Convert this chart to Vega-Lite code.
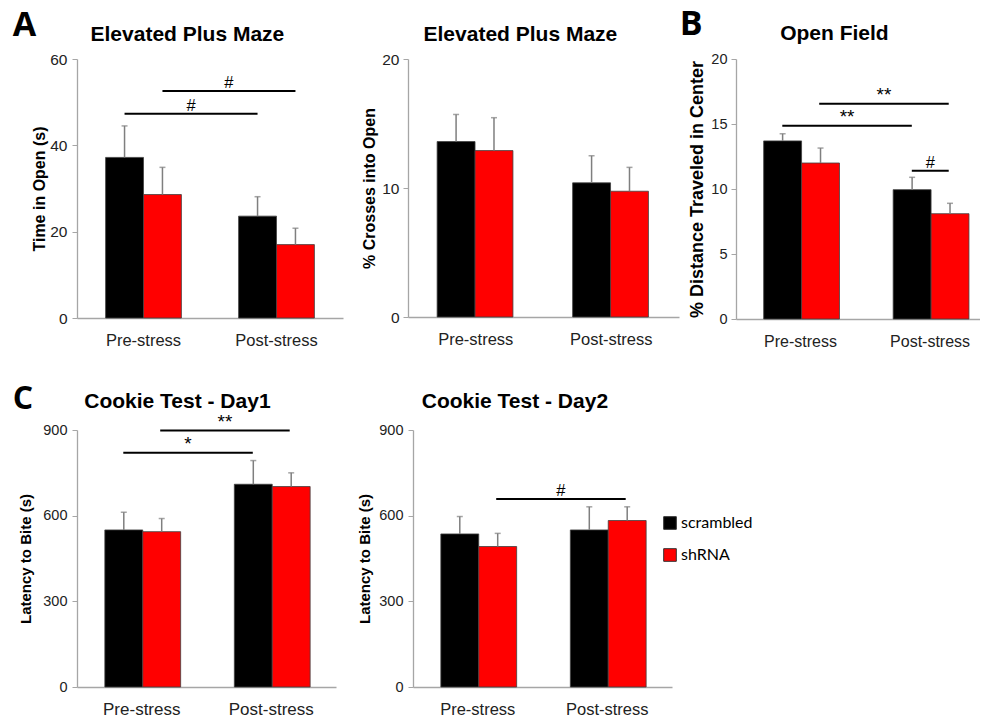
{
  "$schema": "https://vega.github.io/schema/vega-lite/v6.json",
  "padding": {"left": 12, "top": 7, "right": 0, "bottom": 0},
  "autosize": {"type": "pad"},
  "background": "#ffffff",
  "config": {
    "view": {"stroke": null},
    "font": "Liberation Sans",
    "axis": {"domainColor": "#a6a6a6", "tickColor": "#a6a6a6", "grid": false, "labelColor": "#222222", "titleColor": "#000000", "labelFont": "Liberation Sans", "titleFont": "Liberation Sans", "domainWidth": 1.3},
    "axisX": {"ticks": false, "labelAngle": 0, "labelPadding": 14, "labelFontSize": 16.5},
    "axisY": {"tickSize": 5, "labelPadding": 5, "titleFontWeight": "bold", "titlePadding": 4, "labelFontSize": 15.5, "titleFontSize": 16},
    "title": {"font": "Liberation Sans", "fontSize": 21, "fontWeight": "bold", "color": "#000000", "frame": "bounds", "anchor": "middle", "offset": 7.5},
    "legend": {"orient": "none", "legendX": 585, "legendY": 456, "symbolType": "square", "symbolSize": 160, "symbolStrokeColor": "#333333", "symbolStrokeWidth": 1, "labelFont": "Lato", "labelFontSize": 16, "labelColor": "#000000", "rowPadding": 14, "labelOffset": 3}
  },
  "datasets": {
    "bars": [
      {"panel": "A1", "cond": "Pre-stress", "group": "scrambled", "mean": 37.2, "upper": 44.5},
      {"panel": "A1", "cond": "Pre-stress", "group": "shRNA", "mean": 28.6, "upper": 34.9},
      {"panel": "A1", "cond": "Post-stress", "group": "scrambled", "mean": 23.6, "upper": 28.1},
      {"panel": "A1", "cond": "Post-stress", "group": "shRNA", "mean": 17.0, "upper": 20.8},
      {"panel": "A2", "cond": "Pre-stress", "group": "scrambled", "mean": 13.6, "upper": 15.7},
      {"panel": "A2", "cond": "Pre-stress", "group": "shRNA", "mean": 12.9, "upper": 15.45},
      {"panel": "A2", "cond": "Post-stress", "group": "scrambled", "mean": 10.4, "upper": 12.5},
      {"panel": "A2", "cond": "Post-stress", "group": "shRNA", "mean": 9.75, "upper": 11.6},
      {"panel": "B", "cond": "Pre-stress", "group": "scrambled", "mean": 13.7, "upper": 14.25},
      {"panel": "B", "cond": "Pre-stress", "group": "shRNA", "mean": 12.0, "upper": 13.15},
      {"panel": "B", "cond": "Post-stress", "group": "scrambled", "mean": 9.95, "upper": 10.9},
      {"panel": "B", "cond": "Post-stress", "group": "shRNA", "mean": 8.1, "upper": 8.9},
      {"panel": "C1", "cond": "Pre-stress", "group": "scrambled", "mean": 550, "upper": 612},
      {"panel": "C1", "cond": "Pre-stress", "group": "shRNA", "mean": 544, "upper": 590},
      {"panel": "C1", "cond": "Post-stress", "group": "scrambled", "mean": 710, "upper": 793},
      {"panel": "C1", "cond": "Post-stress", "group": "shRNA", "mean": 702, "upper": 750},
      {"panel": "C2", "cond": "Pre-stress", "group": "scrambled", "mean": 536, "upper": 597},
      {"panel": "C2", "cond": "Pre-stress", "group": "shRNA", "mean": 492, "upper": 538},
      {"panel": "C2", "cond": "Post-stress", "group": "scrambled", "mean": 550, "upper": 631},
      {"panel": "C2", "cond": "Post-stress", "group": "shRNA", "mean": 583, "upper": 631}
    ],
    "sig": [
      {"panel": "A1", "x1": 0.3575, "x2": 1.3575, "xm": 0.8575, "y": 47.3, "label": "#"},
      {"panel": "A1", "x1": 0.6425, "x2": 1.6425, "xm": 1.1425, "y": 52.6, "label": "#"},
      {"panel": "B", "x1": 0.3575, "x2": 1.3575, "xm": 0.8575, "y": 14.87, "label": "**"},
      {"panel": "B", "x1": 0.6425, "x2": 1.6425, "xm": 1.1425, "y": 16.56, "label": "**"},
      {"panel": "B", "x1": 1.3575, "x2": 1.6425, "xm": 1.5, "y": 11.4, "label": "#"},
      {"panel": "C1", "x1": 0.3575, "x2": 1.3575, "xm": 0.8575, "y": 820, "label": "*"},
      {"panel": "C1", "x1": 0.6425, "x2": 1.6425, "xm": 1.1425, "y": 898, "label": "**"},
      {"panel": "C2", "x1": 0.6425, "x2": 1.6425, "xm": 1.1425, "y": 658, "label": "#"}
    ]
  },
  "spacing": 33,
  "vconcat": [
    {
      "spacing": 0,
      "hconcat": [
        {
          "title": {"text": "A", "font": "Open Sans", "fontSize": 34, "fontWeight": "bold", "anchor": "start", "frame": "bounds", "dx": -19, "offset": -19},
          "spacing": 18,
          "hconcat": [
            {
              "width": 266, "height": 259,
              "title": "Elevated Plus Maze",
              "resolve": {"scale": {"x": "independent"}},
              "layer": [
                {
                  "data": {"name": "bars"},
                  "transform": [{"filter": "datum.panel === 'A1'"}],
                  "encoding": {
                    "x": {"field": "cond", "type": "nominal", "sort": ["Pre-stress", "Post-stress"], "scale": {"paddingInner": 0.43, "paddingOuter": 0.215}, "axis": {"title": null}},
                    "xOffset": {"field": "group", "type": "nominal", "sort": ["scrambled", "shRNA"], "scale": {"paddingInner": 0, "paddingOuter": 0}}
                  },
                  "layer": [
                    {"mark": {"type": "bar", "stroke": "#404040", "strokeWidth": 0.8}, "encoding": {"y": {"field": "mean", "type": "quantitative", "scale": {"domain": [0, 60], "nice": false}, "axis": {"values": [0, 20, 40, 60], "title": "Time in Open (s)", "titlePadding": 2}}, "color": {"field": "group", "type": "nominal", "scale": {"domain": ["scrambled", "shRNA"], "range": ["#000000", "#ff0000"]}, "legend": {"title": null}}}},
                    {"mark": {"type": "rule", "color": "#7f7f7f", "strokeWidth": 1.5}, "encoding": {"y": {"field": "mean", "type": "quantitative"}, "y2": {"field": "upper"}}},
                    {"mark": {"type": "tick", "color": "#7f7f7f", "size": 6, "thickness": 1.5}, "encoding": {"y": {"field": "upper", "type": "quantitative"}}}
                  ]
                },
                {
                  "data": {"name": "sig"},
                  "transform": [{"filter": "datum.panel === 'A1'"}],
                  "layer": [
                    {"mark": {"type": "rule", "color": "#000000", "strokeWidth": 2}, "encoding": {"x": {"field": "x1", "type": "quantitative", "scale": {"domain": [0, 2], "nice": false, "zero": false}, "axis": null}, "x2": {"field": "x2"}, "y": {"field": "y", "type": "quantitative"}}},
                    {"mark": {"type": "text", "dy": -3, "baseline": "alphabetic", "color": "#000000"}, "encoding": {"x": {"field": "xm", "type": "quantitative", "axis": null}, "y": {"field": "y", "type": "quantitative"}, "text": {"field": "label"}, "size": {"condition": {"test": "datum.label === '#'", "value": 16.5}, "value": 19}}}
                  ]
                }
              ]
            },
            {
              "width": 271, "height": 258,
              "title": "Elevated Plus Maze",
              "resolve": {"scale": {"x": "independent"}},
              "layer": [
                {
                  "data": {"name": "bars"},
                  "transform": [{"filter": "datum.panel === 'A2'"}],
                  "encoding": {
                    "x": {"field": "cond", "type": "nominal", "sort": ["Pre-stress", "Post-stress"], "scale": {"paddingInner": 0.43, "paddingOuter": 0.215}, "axis": {"title": null}},
                    "xOffset": {"field": "group", "type": "nominal", "sort": ["scrambled", "shRNA"], "scale": {"paddingInner": 0, "paddingOuter": 0}}
                  },
                  "layer": [
                    {"mark": {"type": "bar", "stroke": "#404040", "strokeWidth": 0.8}, "encoding": {"y": {"field": "mean", "type": "quantitative", "scale": {"domain": [0, 20], "nice": false}, "axis": {"values": [0, 10, 20], "title": "% Crosses into Open", "titlePadding": 4, "labelPadding": 4}}, "color": {"field": "group", "type": "nominal", "scale": {"domain": ["scrambled", "shRNA"], "range": ["#000000", "#ff0000"]}, "legend": {"title": null}}}},
                    {"mark": {"type": "rule", "color": "#7f7f7f", "strokeWidth": 1.5}, "encoding": {"y": {"field": "mean", "type": "quantitative"}, "y2": {"field": "upper"}}},
                    {"mark": {"type": "tick", "color": "#7f7f7f", "size": 6, "thickness": 1.5}, "encoding": {"y": {"field": "upper", "type": "quantitative"}}}
                  ]
                }
              ]
            }
          ]
        },
        {
          "title": {"text": "B", "font": "Open Sans", "fontSize": 34, "fontWeight": "bold", "anchor": "start", "frame": "bounds", "dx": -9, "offset": -19},
          "hconcat": [
            {
              "width": 244, "height": 260,
              "title": "Open Field",
              "resolve": {"scale": {"x": "independent"}},
              "layer": [
                {
                  "data": {"name": "bars"},
                  "transform": [{"filter": "datum.panel === 'B'"}],
                  "encoding": {
                    "x": {"field": "cond", "type": "nominal", "sort": ["Pre-stress", "Post-stress"], "scale": {"paddingInner": 0.43, "paddingOuter": 0.1571, "align": 0.68}, "axis": {"title": null, "labelFontSize": 16}},
                    "xOffset": {"field": "group", "type": "nominal", "sort": ["scrambled", "shRNA"], "scale": {"paddingInner": 0, "paddingOuter": 0}}
                  },
                  "layer": [
                    {"mark": {"type": "bar", "stroke": "#404040", "strokeWidth": 0.8}, "encoding": {"y": {"field": "mean", "type": "quantitative", "scale": {"domain": [0, 20], "nice": false}, "axis": {"values": [0, 5, 10, 15, 20], "title": "% Distance Traveled in Center", "titleFontSize": 18, "labelFontSize": 14.5, "titlePadding": 4, "labelPadding": 4}}, "color": {"field": "group", "type": "nominal", "scale": {"domain": ["scrambled", "shRNA"], "range": ["#000000", "#ff0000"]}, "legend": {"title": null}}}},
                    {"mark": {"type": "rule", "color": "#7f7f7f", "strokeWidth": 1.5}, "encoding": {"y": {"field": "mean", "type": "quantitative"}, "y2": {"field": "upper"}}},
                    {"mark": {"type": "tick", "color": "#7f7f7f", "size": 6, "thickness": 1.5}, "encoding": {"y": {"field": "upper", "type": "quantitative"}}}
                  ]
                },
                {
                  "data": {"name": "sig"},
                  "transform": [{"filter": "datum.panel === 'B'"}],
                  "layer": [
                    {"mark": {"type": "rule", "color": "#000000", "strokeWidth": 2}, "encoding": {"x": {"field": "x1", "type": "quantitative", "scale": {"domain": [0, 1.884], "nice": false, "zero": false}, "axis": null}, "x2": {"field": "x2"}, "y": {"field": "y", "type": "quantitative"}}},
                    {"mark": {"type": "text", "dy": -3, "baseline": "alphabetic", "color": "#000000"}, "encoding": {"x": {"field": "xm", "type": "quantitative", "axis": null}, "y": {"field": "y", "type": "quantitative"}, "text": {"field": "label"}, "size": {"condition": {"test": "datum.label === '#'", "value": 16.5}, "value": 19}}}
                  ]
                }
              ]
            }
          ]
        }
      ]
    },
    {
      "title": {"text": "C", "font": "Open Sans", "fontSize": 32, "fontWeight": "bold", "anchor": "start", "frame": "bounds", "dx": -6, "offset": -25},
      "spacing": 21,
      "hconcat": [
        {
          "width": 259, "height": 257,
          "title": {"text": "Cookie Test - Day1", "offset": 1},
          "resolve": {"scale": {"x": "independent"}},
          "layer": [
            {
              "data": {"name": "bars"},
              "transform": [{"filter": "datum.panel === 'C1'"}],
              "encoding": {
                "x": {"field": "cond", "type": "nominal", "sort": ["Pre-stress", "Post-stress"], "scale": {"paddingInner": 0.43, "paddingOuter": 0.215}, "axis": {"title": null, "labelFontSize": 17}},
                "xOffset": {"field": "group", "type": "nominal", "sort": ["scrambled", "shRNA"], "scale": {"paddingInner": 0, "paddingOuter": 0}}
              },
              "layer": [
                {"mark": {"type": "bar", "stroke": "#404040", "strokeWidth": 0.8}, "encoding": {"y": {"field": "mean", "type": "quantitative", "scale": {"domain": [0, 900], "nice": false}, "axis": {"values": [0, 300, 600, 900], "title": "Latency to Bite (s)", "titleFontSize": 15, "labelFontSize": 14.5, "titlePadding": 9}}, "color": {"field": "group", "type": "nominal", "scale": {"domain": ["scrambled", "shRNA"], "range": ["#000000", "#ff0000"]}, "legend": {"title": null}}}},
                {"mark": {"type": "rule", "color": "#7f7f7f", "strokeWidth": 1.5}, "encoding": {"y": {"field": "mean", "type": "quantitative"}, "y2": {"field": "upper"}}},
                {"mark": {"type": "tick", "color": "#7f7f7f", "size": 6, "thickness": 1.5}, "encoding": {"y": {"field": "upper", "type": "quantitative"}}}
              ]
            },
            {
              "data": {"name": "sig"},
              "transform": [{"filter": "datum.panel === 'C1'"}],
              "layer": [
                {"mark": {"type": "rule", "color": "#000000", "strokeWidth": 2}, "encoding": {"x": {"field": "x1", "type": "quantitative", "scale": {"domain": [0, 2], "nice": false, "zero": false}, "axis": null}, "x2": {"field": "x2"}, "y": {"field": "y", "type": "quantitative"}}},
                {"mark": {"type": "text", "dy": -3, "baseline": "alphabetic", "color": "#000000"}, "encoding": {"x": {"field": "xm", "type": "quantitative", "axis": null}, "y": {"field": "y", "type": "quantitative"}, "text": {"field": "label"}, "size": {"condition": {"test": "datum.label === '#'", "value": 16.5}, "value": 19}}}
              ]
            }
          ]
        },
        {
          "width": 259, "height": 257,
          "title": {"text": "Cookie Test - Day2", "offset": 10},
          "resolve": {"scale": {"x": "independent"}},
          "layer": [
            {
              "data": {"name": "bars"},
              "transform": [{"filter": "datum.panel === 'C2'"}],
              "encoding": {
                "x": {"field": "cond", "type": "nominal", "sort": ["Pre-stress", "Post-stress"], "scale": {"paddingInner": 0.43, "paddingOuter": 0.215}, "axis": {"title": null}},
                "xOffset": {"field": "group", "type": "nominal", "sort": ["scrambled", "shRNA"], "scale": {"paddingInner": 0, "paddingOuter": 0}}
              },
              "layer": [
                {"mark": {"type": "bar", "stroke": "#404040", "strokeWidth": 0.8}, "encoding": {"y": {"field": "mean", "type": "quantitative", "scale": {"domain": [0, 900], "nice": false}, "axis": {"values": [0, 300, 600, 900], "title": "Latency to Bite (s)", "titleFontSize": 15, "labelFontSize": 14.5, "titlePadding": 6}}, "color": {"field": "group", "type": "nominal", "scale": {"domain": ["scrambled", "shRNA"], "range": ["#000000", "#ff0000"]}, "legend": {"title": null}}}},
                {"mark": {"type": "rule", "color": "#7f7f7f", "strokeWidth": 1.5}, "encoding": {"y": {"field": "mean", "type": "quantitative"}, "y2": {"field": "upper"}}},
                {"mark": {"type": "tick", "color": "#7f7f7f", "size": 6, "thickness": 1.5}, "encoding": {"y": {"field": "upper", "type": "quantitative"}}}
              ]
            },
            {
              "data": {"name": "sig"},
              "transform": [{"filter": "datum.panel === 'C2'"}],
              "layer": [
                {"mark": {"type": "rule", "color": "#000000", "strokeWidth": 2}, "encoding": {"x": {"field": "x1", "type": "quantitative", "scale": {"domain": [0, 2], "nice": false, "zero": false}, "axis": null}, "x2": {"field": "x2"}, "y": {"field": "y", "type": "quantitative"}}},
                {"mark": {"type": "text", "dy": -3, "baseline": "alphabetic", "color": "#000000"}, "encoding": {"x": {"field": "xm", "type": "quantitative", "axis": null}, "y": {"field": "y", "type": "quantitative"}, "text": {"field": "label"}, "size": {"condition": {"test": "datum.label === '#'", "value": 16.5}, "value": 19}}}
              ]
            }
          ]
        }
      ]
    }
  ]
}
